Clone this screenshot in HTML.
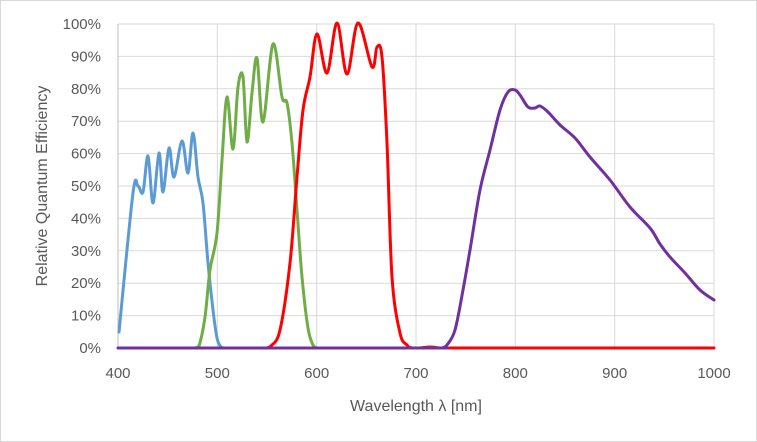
<!DOCTYPE html>
<html><head><meta charset="utf-8"><style>
body{margin:0;background:#fff}
svg{display:block}
text{font-family:"Liberation Sans",sans-serif;fill:#595959}
</style></head><body>
<svg id="s" width="757" height="442" viewBox="0 0 757 442">
<rect x="0.5" y="0.5" width="756" height="441" fill="#fff" stroke="#d9d9d9"/>
<g stroke="#d9d9d9" stroke-width="1">
<line x1="118" y1="24" x2="714" y2="24"/><line x1="118" y1="56.4" x2="714" y2="56.4"/><line x1="118" y1="88.8" x2="714" y2="88.8"/><line x1="118" y1="121.2" x2="714" y2="121.2"/><line x1="118" y1="153.6" x2="714" y2="153.6"/><line x1="118" y1="186" x2="714" y2="186"/><line x1="118" y1="218.4" x2="714" y2="218.4"/><line x1="118" y1="250.8" x2="714" y2="250.8"/><line x1="118" y1="283.2" x2="714" y2="283.2"/><line x1="118" y1="315.6" x2="714" y2="315.6"/>
<line x1="217.3" y1="24" x2="217.3" y2="348"/><line x1="316.7" y1="24" x2="316.7" y2="348"/><line x1="416" y1="24" x2="416" y2="348"/><line x1="515.3" y1="24" x2="515.3" y2="348"/><line x1="614.7" y1="24" x2="614.7" y2="348"/><line x1="714" y1="24" x2="714" y2="348"/>
<line x1="118" y1="24" x2="118" y2="348" stroke="#bfbfbf"/>
<line x1="118" y1="348" x2="714" y2="348" stroke="#bfbfbf"/>
</g>
<g font-size="15" text-anchor="end">
<text x="101" y="29">100%</text><text x="101" y="61.4">90%</text><text x="101" y="93.8">80%</text><text x="101" y="126.2">70%</text><text x="101" y="158.6">60%</text><text x="101" y="191">50%</text><text x="101" y="223.4">40%</text><text x="101" y="255.8">30%</text><text x="101" y="288.2">20%</text><text x="101" y="320.6">10%</text><text x="101" y="353">0%</text>
</g>
<g font-size="15" text-anchor="middle">
<text x="118" y="378">400</text><text x="217.3" y="378">500</text><text x="316.7" y="378">600</text><text x="416" y="378">700</text><text x="515.3" y="378">800</text><text x="614.7" y="378">900</text><text x="714" y="378">1000</text>
<text x="416" y="411" font-size="16">Wavelength λ [nm]</text>
<text transform="translate(47,186) rotate(-90)" font-size="16">Relative Quantum Efficiency</text>
</g>
<g id="c" fill="none" stroke-width="3" stroke-linejoin="round" stroke-linecap="round"></g>
</svg>
<script>
var S=[
["#5b9bd5",[[119,332],[133,193],[138,186],[143,192],[148,156],[153,203],[159,153],[163,192],[169,148],[174,177],[182,141],[188,173],[193,133],[198,177],[203,203],[208,263],[213,310],[217,338],[221,347],[224,348],[226,348]]],
["#70ad47",[[192,348],[195,348],[199,346],[205,317],[210,270],[217,233],[222,160],[227,97],[233,149],[238,87],[243,77],[247,142],[252,93],[257,58],[263,122],[273,44],[282,97],[287,103],[292,143],[297,210],[302,277],[308,328],[313,345],[317,348],[320,348]]],
["#ff0000",[[262,348],[266,348],[271,346],[280,330],[290,263],[297,177],[303,110],[310,77],[317,34],[327,73],[337,23],[347,74],[358,23],[372,67],[377,47],[382,57],[387,143],[392,277],[400,333],[407,345],[412,348],[420,348],[430,347],[440,348],[450,348]]],
["#7030a0",[[118,348],[438,348],[442,348],[447,345],[455,330],[463,290],[470,250],[480,190],[490,150],[500,110],[508,92],[515,90],[520,95],[528,107],[535,108],[540,106],[548,112],[560,125],[575,138],[590,157],[610,180],[630,207],[650,228],[660,244],[670,257],[685,273],[700,290],[714,300]]],
["#ff0000",[[450,348],[714,348]]]
];
var g=document.getElementById('c');
S.forEach(function(s){var col=s[0],p=s[1],d='M'+p[0][0]+','+p[0][1];
for(var i=0;i<p.length-1;i++){var p0=p[Math.max(0,i-1)],p1=p[i],p2=p[i+1],p3=p[Math.min(p.length-1,i+2)];
var c1=[p1[0]+(p2[0]-p0[0])/6,Math.min(348,p1[1]+(p2[1]-p0[1])/6)],c2=[p2[0]-(p3[0]-p1[0])/6,Math.min(348,p2[1]-(p3[1]-p1[1])/6)];
d+=' C'+c1+' '+c2+' '+p2;}
var e=document.createElementNS('http://www.w3.org/2000/svg','path');e.setAttribute('d',d);e.setAttribute('stroke',col);g.appendChild(e);});
</script>
</body></html>
